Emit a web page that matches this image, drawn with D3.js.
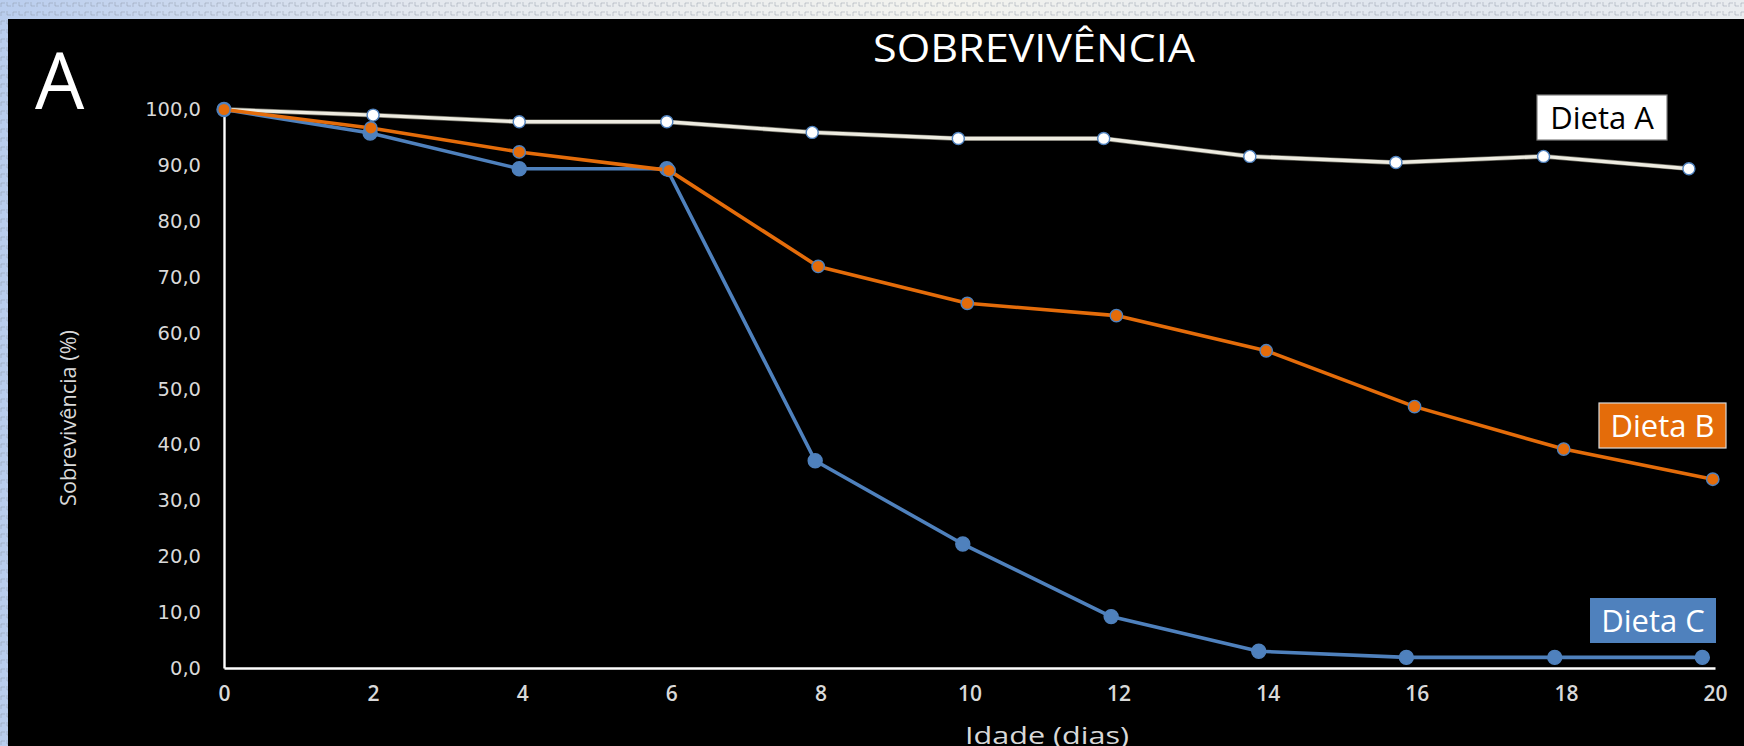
<!DOCTYPE html>
<html>
<head>
<meta charset="utf-8">
<script src="https://cdn.jsdelivr.net/npm/d3@7"></script>
<style>
  html, body { margin: 0; padding: 0; background: #eef0f2; overflow: hidden; }
  svg { display: block; }
</style>
</head>
<body>
<svg id="chart" width="1744" height="746"></svg>
<script>
// ---------------- data ----------------
const xTicks = [0, 2, 4, 6, 8, 10, 12, 14, 16, 18, 20];
const yTicks = [0, 10, 20, 30, 40, 50, 60, 70, 80, 90, 100];

const dietaA_x = [0, 2.0, 3.96, 5.94, 7.89, 9.85, 11.80, 13.76, 15.72, 17.70, 19.65];
const dietaA_y = [100, 99.0, 97.8, 97.8, 95.9, 94.8, 94.8, 91.6, 90.5, 91.6, 89.4];

const dietaB_x = [0, 1.97, 3.96, 5.97, 7.97, 9.97, 11.97, 13.98, 15.97, 17.97, 19.97];
const dietaB_y = [100, 96.7, 92.4, 89.1, 71.9, 65.3, 63.1, 56.8, 46.8, 39.2, 33.8];

const dietaC_x = [0, 1.96, 3.96, 5.94, 7.93, 9.91, 11.90, 13.88, 15.86, 17.85, 19.83];
const dietaC_y = [100, 95.8, 89.4, 89.4, 37.1, 22.2, 9.2, 3.0, 1.9, 1.9, 1.9];

const seriesNames = ["Dieta A", "Dieta B", "Dieta C"];
const titleText = "SOBREVIVÊNCIA";
const panelLetter = "A";
const xTitle = "Idade (dias)";
const yTitle = "Sobrevivência (%)";

// ---------------- layout ----------------
const W = 1744, H = 746;
const svg = d3.select("#chart");

const defs = svg.append("defs");
const grad = defs.append("linearGradient").attr("id", "bgGrad")
  .attr("x1", "0").attr("y1", "0").attr("x2", "1").attr("y2", "0");
grad.append("stop").attr("offset", "0").attr("stop-color", "#b9cdee");
grad.append("stop").attr("offset", "0.25").attr("stop-color", "#e4e8ee");
grad.append("stop").attr("offset", "0.55").attr("stop-color", "#f3f3ee");
grad.append("stop").attr("offset", "0.8").attr("stop-color", "#dfe5ee");
grad.append("stop").attr("offset", "1").attr("stop-color", "#e9ecef");
const pat = defs.append("pattern").attr("id", "bgPat")
  .attr("width", 12).attr("height", 9).attr("patternUnits", "userSpaceOnUse");
pat.append("path").attr("d", "M1,7 L1,3 L5,3 M7,2 L7,6 L11,6")
  .attr("fill", "none").attr("stroke", "#8a94a0").attr("stroke-width", 0.8).attr("opacity", 0.55);

svg.append("rect").attr("width", W).attr("height", H).attr("fill", "url(#bgGrad)");
svg.append("rect").attr("width", W).attr("height", H).attr("fill", "url(#bgPat)");

// black panel
svg.append("rect").attr("x", 8).attr("y", 19).attr("width", W - 8).attr("height", H - 19).attr("fill", "#000");

// scales
const x = d3.scaleLinear().domain([0, 20]).range([224, 1715]);
const y = d3.scaleLinear().domain([0, 100]).range([668, 109.5]);

// y axis
const fmt = d => d.toFixed(1).replace(".", ",");
const yAxis = svg.append("g").attr("transform", `translate(${x(0)},0)`)
  .call(d3.axisLeft(y).tickValues(yTicks).tickSize(0).tickPadding(23).tickFormat(fmt));
yAxis.select(".domain").attr("stroke", "#ffffff").attr("stroke-width", 2.4);
yAxis.selectAll("text").attr("fill", "#d9d9d9")
  .style("font-family", "'DejaVu Sans', Verdana, sans-serif").style("font-size", "19.5px");

// x axis
const xAxis = svg.append("g").attr("transform", `translate(0,${y(0)})`)
  .call(d3.axisBottom(x).tickValues(xTicks).tickSize(0).tickPadding(18).tickFormat(d => String(d)));
xAxis.select(".domain").attr("stroke", "#ffffff").attr("stroke-width", 2.4);
xAxis.selectAll("text").attr("fill", "#d9d9d9")
  .style("font-family", "'Open Sans', sans-serif").style("font-size", "21px").style("font-weight", 600);

// series
const series = [
  { name: seriesNames[0], xs: dietaA_x, ys: dietaA_y, line: "#eeece1", fill: "#ffffff", stroke: "#4f81bd", r: 6, lw: 3.4 },
  { name: seriesNames[2], xs: dietaC_x, ys: dietaC_y, line: "#4f81bd", fill: "#4f81bd", stroke: "#4f81bd", r: 7, lw: 3.6 },
  { name: seriesNames[1], xs: dietaB_x, ys: dietaB_y, line: "#e46c0a", fill: "#e46c0a", stroke: "#4f81bd", r: 6.2, lw: 3.6 }
];

const lineGen = d3.line().x(d => x(d[0])).y(d => y(d[1]));

series.forEach(s => {
  const pts = s.xs.map((v, i) => [v, s.ys[i]]);
  const g = svg.append("g");
  if (s.name === seriesNames[0]) {
    g.append("path").attr("d", lineGen(pts)).attr("fill", "none")
      .attr("stroke", "#6b6a60").attr("stroke-width", s.lw + 1.4).attr("stroke-linejoin", "round");
  }
  g.append("path").attr("d", lineGen(pts)).attr("fill", "none")
    .attr("stroke", s.line).attr("stroke-width", s.lw).attr("stroke-linejoin", "round");
  g.selectAll("circle").data(pts).join("circle")
    .attr("cx", d => x(d[0])).attr("cy", d => y(d[1])).attr("r", s.r)
    .attr("fill", s.fill).attr("stroke", s.stroke).attr("stroke-width", 1.4);
});

// labels (boxes)
const labels = [
  { text: seriesNames[0], x: 1537, y: 95, w: 130, h: 45, fill: "#ffffff", stroke: "#7f7f7f", color: "#000000" },
  { text: seriesNames[1], x: 1599, y: 403, w: 127, h: 45, fill: "#e46c0a", stroke: "#d9d9d9", color: "#ffffff" },
  { text: seriesNames[2], x: 1590, y: 598, w: 126, h: 45, fill: "#4f81bd", stroke: "none", color: "#ffffff" }
];
labels.forEach(l => {
  svg.append("rect").attr("x", l.x).attr("y", l.y).attr("width", l.w).attr("height", l.h)
    .attr("fill", l.fill).attr("stroke", l.stroke).attr("stroke-width", 1.2);
  svg.append("text").attr("x", l.x + l.w / 2).attr("y", l.y + l.h / 2).attr("dy", "0.36em")
    .attr("text-anchor", "middle").attr("fill", l.color)
    .style("font-family", "'Open Sans', sans-serif").style("font-size", "31px").text(l.text);
});

// title
svg.append("text").attr("x", 1034).attr("y", 62).attr("text-anchor", "middle")
  .attr("textLength", 322).attr("lengthAdjust", "spacingAndGlyphs")
  .attr("fill", "#ffffff").style("font-family", "'Open Sans', sans-serif").style("font-size", "38px")
  .text(titleText);

// panel letter
svg.append("text").attr("x", 35).attr("y", 109).attr("fill", "#ffffff")
  .style("font-family", "'Open Sans', sans-serif").style("font-size", "78px").style("font-weight", 400)
  .text(panelLetter);

// axis titles
svg.append("text").attr("x", 1047).attr("y", 744).attr("text-anchor", "middle")
  .attr("textLength", 164).attr("lengthAdjust", "spacingAndGlyphs")
  .attr("fill", "#d9d9d9").style("font-family", "'Open Sans', sans-serif")
  .style("font-size", "23px").text(xTitle);

svg.append("text").attr("transform", "translate(76,418) rotate(-90)").attr("text-anchor", "middle")
  .attr("textLength", 176).attr("lengthAdjust", "spacingAndGlyphs")
  .attr("fill", "#d9d9d9").style("font-family", "'Open Sans', sans-serif")
  .style("font-size", "22px").text(yTitle);
</script>
</body>
</html>
